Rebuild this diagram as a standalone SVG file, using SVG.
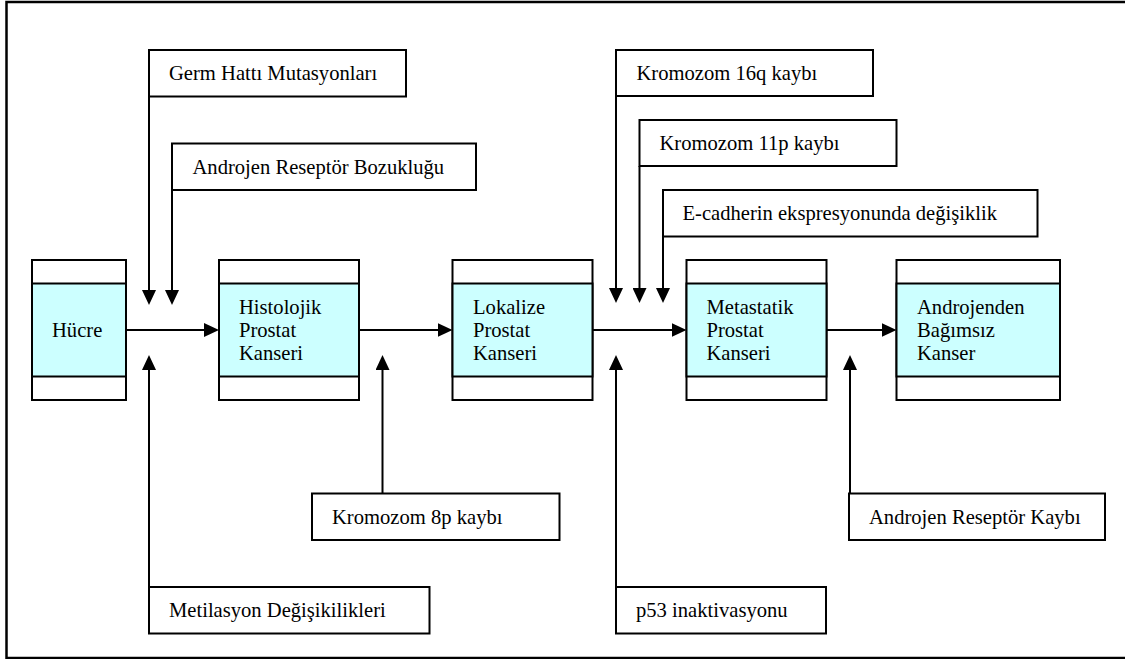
<svg xmlns="http://www.w3.org/2000/svg" width="1125" height="659" viewBox="0 0 1125 659">
<style>
.frame{fill:none;stroke:#000;stroke-width:2.5}
.box{fill:#fff;stroke:#000;stroke-width:2}
.band{fill:#ccffff;stroke:#000;stroke-width:2}
.lbl{font-family:"Liberation Serif","Times New Roman",serif;font-size:20.6px;fill:#000}
.conn line{stroke:#000;stroke-width:2;fill:none}
</style>
<defs>
<marker id="ah" markerUnits="userSpaceOnUse" markerWidth="16" markerHeight="14" refX="10" refY="7" orient="auto">
<path d="M0,0 L15,7 L0,14 z" fill="#000"/>
</marker>
</defs>
<rect x="0" y="0" width="1125" height="659" fill="#fff"/>
<rect class="frame" x="6.5" y="2" width="1130" height="656"/>

<g id="node-hucre">
<rect class="box" x="32" y="260" width="94" height="140"/>
<rect class="band" x="32" y="283.5" width="94" height="93"/>
<text class="lbl" x="52" y="337">Hücre</text>
</g>
<g id="node-histolojik">
<rect class="box" x="219" y="260" width="140" height="140"/>
<rect class="band" x="219" y="283.5" width="140" height="93"/>
<text class="lbl" x="239" y="314">Histolojik</text>
<text class="lbl" x="239" y="337">Prostat</text>
<text class="lbl" x="239" y="360">Kanseri</text>
</g>
<g id="node-lokalize">
<rect class="box" x="452.5" y="260" width="140" height="140"/>
<rect class="band" x="452.5" y="283.5" width="140" height="93"/>
<text class="lbl" x="473" y="314">Lokalize</text>
<text class="lbl" x="473" y="337">Prostat</text>
<text class="lbl" x="473" y="360">Kanseri</text>
</g>
<g id="node-metastatik">
<rect class="box" x="686.5" y="260" width="140" height="140"/>
<rect class="band" x="686.5" y="283.5" width="140" height="93"/>
<text class="lbl" x="706.5" y="314">Metastatik</text>
<text class="lbl" x="706.5" y="337">Prostat</text>
<text class="lbl" x="706.5" y="360">Kanseri</text>
</g>
<g id="node-androjenden">
<rect class="box" x="896.5" y="260" width="163.5" height="140"/>
<rect class="band" x="896.5" y="283.5" width="163.5" height="93"/>
<text class="lbl" x="917" y="314">Androjenden</text>
<text class="lbl" x="917" y="337">Bağımsız</text>
<text class="lbl" x="917" y="360">Kanser</text>
</g>

<g id="node-germ">
<rect class="box" x="149" y="50" width="257" height="46.5"/>
<text class="lbl" x="169" y="80">Germ Hattı Mutasyonları</text>
</g>
<g id="node-ar-bozuklugu">
<rect class="box" x="172" y="143.5" width="304" height="46.5"/>
<text class="lbl" x="192.5" y="173.5">Androjen Reseptör Bozukluğu</text>
</g>
<g id="node-16q">
<rect class="box" x="616" y="50" width="257" height="46"/>
<text class="lbl" x="636.5" y="80">Kromozom 16q kaybı</text>
</g>
<g id="node-11p">
<rect class="box" x="639.5" y="120" width="257" height="46"/>
<text class="lbl" x="659.5" y="150">Kromozom 11p kaybı</text>
</g>
<g id="node-ecadherin">
<rect class="box" x="663" y="190" width="374.5" height="46.5"/>
<text class="lbl" x="682.5" y="220">E-cadherin ekspresyonunda değişiklik</text>
</g>
<g id="node-8p">
<rect class="box" x="312" y="493.5" width="247.5" height="46.5"/>
<text class="lbl" x="332" y="523.5">Kromozom 8p kaybı</text>
</g>
<g id="node-metilasyon">
<rect class="box" x="149" y="587" width="280.5" height="46.5"/>
<text class="lbl" x="169" y="617">Metilasyon Değişikilikleri</text>
</g>
<g id="node-ar-kaybi">
<rect class="box" x="849" y="493.5" width="256" height="46.5"/>
<text class="lbl" x="869" y="523.5">Androjen Reseptör Kaybı</text>
</g>
<g id="node-p53">
<rect class="box" x="616" y="587" width="210" height="46.5"/>
<text class="lbl" x="636" y="617">p53 inaktivasyonu</text>
</g>

<g id="connectors" class="conn">
<line x1="126" y1="330" x2="214" y2="330" marker-end="url(#ah)"/>
<line x1="359" y1="330" x2="447.5" y2="330" marker-end="url(#ah)"/>
<line x1="592.5" y1="330" x2="681.5" y2="330" marker-end="url(#ah)"/>
<line x1="826.5" y1="330" x2="891.5" y2="330" marker-end="url(#ah)"/>

<line x1="149" y1="96.5" x2="149" y2="300" marker-end="url(#ah)"/>
<line x1="172" y1="190" x2="172" y2="300" marker-end="url(#ah)"/>
<line x1="616" y1="96" x2="616" y2="298" marker-end="url(#ah)"/>
<line x1="639.5" y1="166" x2="639.5" y2="298" marker-end="url(#ah)"/>
<line x1="663" y1="236.5" x2="663" y2="298" marker-end="url(#ah)"/>

<line x1="149" y1="587" x2="149" y2="360" marker-end="url(#ah)"/>
<line x1="382.5" y1="493.5" x2="382.5" y2="360" marker-end="url(#ah)"/>
<line x1="616" y1="587" x2="616" y2="360" marker-end="url(#ah)"/>
<line x1="850" y1="493.5" x2="850" y2="360" marker-end="url(#ah)"/>
</g>
</svg>
